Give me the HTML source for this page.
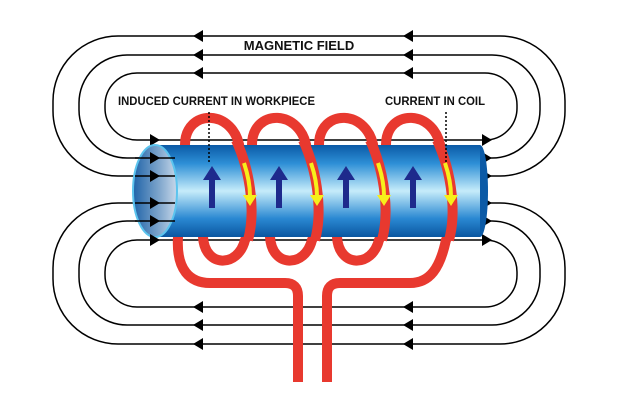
<!DOCTYPE html>
<html><head><meta charset="utf-8"><style>html,body{margin:0;padding:0;background:#fff}svg{display:block}</style></head>
<body>
<svg width="619" height="405" viewBox="0 0 619 405" xmlns="http://www.w3.org/2000/svg">
<defs>
<linearGradient id="tb" x1="0" y1="0" x2="0" y2="1">
<stop offset="0" stop-color="#0b5aa6"/><stop offset="0.2" stop-color="#2d8fd6"/><stop offset="0.5" stop-color="#c6ecfa"/><stop offset="0.8" stop-color="#2a88d2"/><stop offset="1" stop-color="#0a56a0"/></linearGradient>
<linearGradient id="face" x1="0" y1="0" x2="1" y2="0">
<stop offset="0" stop-color="#1f63a8"/><stop offset="0.6" stop-color="#7fa6cc"/><stop offset="1" stop-color="#c8d8ea"/></linearGradient>
</defs>
<g fill="none" stroke="#000" stroke-width="1.5">
<rect x="53" y="36" width="512" height="140" rx="65"/>
<rect x="79" y="55" width="461" height="103" rx="48"/>
<rect x="105" y="73" width="412" height="67" rx="32"/>
<rect x="53" y="203" width="512" height="141" rx="65"/>
<rect x="79" y="221" width="461" height="104" rx="48"/>
<rect x="105" y="240" width="412" height="67" rx="32"/>
</g>
<g fill="#000">
<path d="M193 36l10-6v12z M403 36l10-6v12z M193 55l10-6v12z M403 55l10-6v12z M193 73l10-6v12z M403 73l10-6v12z M193 307l10-6v12z M403 307l10-6v12z M193 325l10-6v12z M403 325l10-6v12z M193 344l10-6v12z M403 344l10-6v12z"/>
<path d="M492 140l-10-6v12z M492 158l-10-6v12z M492 176l-10-6v12z M492 203l-10-6v12z M492 221l-10-6v12z M492 240l-10-6v12z M160 140l-10-6v12z"/>
</g>
<g fill="none" stroke="#e8392f" stroke-width="10" stroke-linecap="round">
<path d="M185 145 C185 108 235 108 240 150 C252 185 255 225 245 240 C238 268 205 268 203 237"/>
<path d="M252 145 C252 108 302 108 307 150 C319 185 322 225 312 240 C305 268 272 268 270 237"/>
<path d="M319 145 C319 108 369 108 374 150 C386 185 389 225 379 240 C372 268 339 268 337 237"/>
</g>
<g fill="none" stroke="#e8392f" stroke-width="10">
<path d="M386 145 C386 108 436 108 441 150 C453 185 456 225 446 240 C440 268 430 283 410 283 H340 Q327 283 327 296 V382"/>
<path d="M185 145 L178 237 C176 270 190 283 210 283 H285 Q298 283 298 296 V382"/>
</g>
<rect x="155" y="145" width="325" height="92" fill="url(#tb)"/>
<ellipse cx="480" cy="191" rx="8" ry="46" fill="#0b5aa6"/>
<rect x="470" y="145" width="10" height="92" fill="url(#tb)"/>
<ellipse cx="155" cy="191" rx="22" ry="46" fill="url(#face)" stroke="#5cc4ee" stroke-width="2"/>
<g stroke="#000" stroke-width="1.5">
<line x1="135" y1="158" x2="175" y2="158"/><line x1="135" y1="176" x2="175" y2="176"/><line x1="135" y1="203" x2="175" y2="203"/><line x1="135" y1="221" x2="175" y2="221"/>
</g>
<g fill="#000"><path d="M160 158l-10-6v12z M160 176l-10-6v12z M160 203l-10-6v12z M160 221l-10-6v12z M160 240l-10-6v12z"/></g>
<g fill="none" stroke="#e8392f" stroke-width="10">
<path d="M236 140 C252 175 255 215 248 240"/>
<path d="M303 140 C319 175 322 215 315 240"/>
<path d="M370 140 C386 175 389 215 382 240"/>
<path d="M437 140 C453 175 456 215 449 240"/>
</g>
<g fill="none" stroke="#f7ef1a" stroke-width="4">
<path d="M244 163 C249 178 250 188 250 196"/>
<path d="M311 163 C316 178 317 188 317 196"/>
<path d="M378 163 C383 178 384 188 384 196"/>
<path d="M445 163 C450 178 451 188 451 196"/>
</g>
<g fill="#f7ef1a"><path d="M243 195h14l-7 11z M310 195h14l-7 11z M377 195h14l-7 11z M444 195h14l-7 11z"/></g>
<g fill="#1e2a8c">
<path d="M209 208v-28h-6l9-14 9 14h-6v28z"/>
<path d="M276 208v-28h-6l9-14 9 14h-6v28z"/>
<path d="M343 208v-28h-6l9-14 9 14h-6v28z"/>
<path d="M410 208v-28h-6l9-14 9 14h-6v28z"/>
</g>
<g stroke="#000" stroke-width="1.5" stroke-dasharray="2 2">
<line x1="209" y1="112" x2="209" y2="162"/><line x1="446" y1="112" x2="446" y2="162"/>
</g>
<g font-family="Liberation Sans, sans-serif" font-weight="bold" fill="#111">
<text x="299" y="50" font-size="13" text-anchor="middle">MAGNETIC FIELD</text>
<text x="118" y="105" font-size="11.5" textLength="197" lengthAdjust="spacingAndGlyphs">INDUCED CURRENT IN WORKPIECE</text>
<text x="385" y="105" font-size="11.5" textLength="100" lengthAdjust="spacingAndGlyphs">CURRENT IN COIL</text>
</g>
</svg>
</body></html>
